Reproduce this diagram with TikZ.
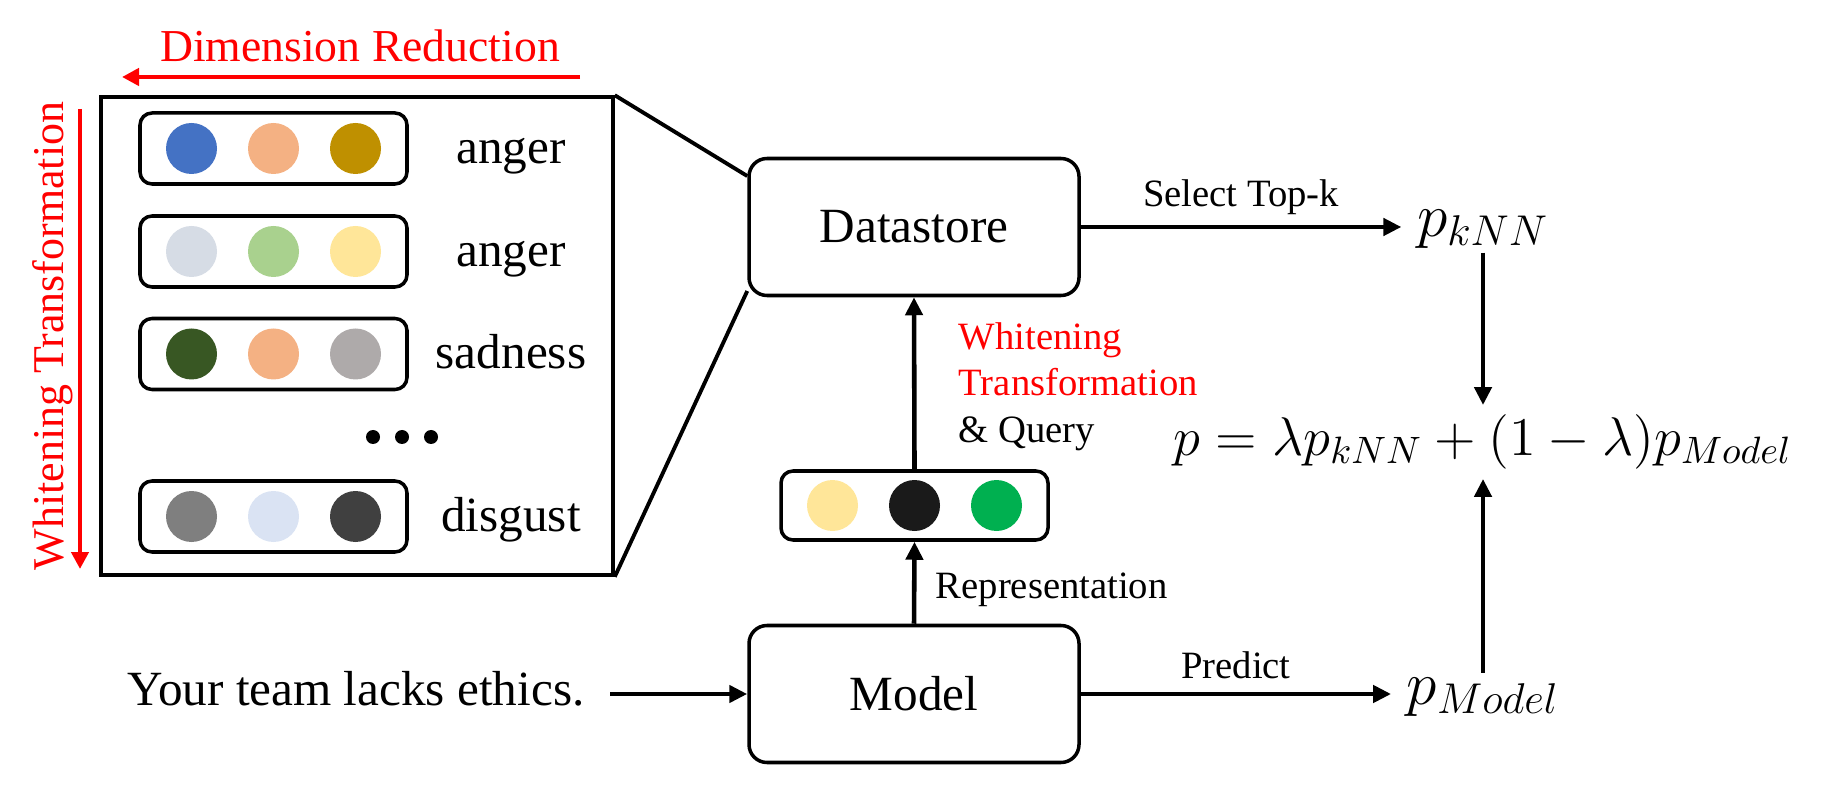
\RequirePackage{fix-cm}
\documentclass[tikz,border=0pt]{standalone}
\usepackage{fontspec}
\setmainfont{Liberation Serif}
\usetikzlibrary{positioning,arrows.meta}

\definecolor{cblue}{HTML}{4472C4}
\definecolor{cpeach}{HTML}{F4B183}
\definecolor{cgold}{HTML}{BF9000}
\definecolor{cmist}{HTML}{D6DCE5}
\definecolor{cgreen}{HTML}{A9D18E}
\definecolor{cyellow}{HTML}{FFE699}
\definecolor{cforest}{HTML}{385723}
\definecolor{cgrey}{HTML}{AEAAAA}
\definecolor{cmid}{HTML}{7F7F7F}
\definecolor{cice}{HTML}{DAE3F3}
\definecolor{cdark}{HTML}{404040}
\definecolor{cblack}{HTML}{1A1A1A}
\definecolor{cemerald}{HTML}{00B050}
\definecolor{cred}{HTML}{FF0000}

\tikzset{
  block/.style={draw, line width=1pt, rounded corners=1.8mm, minimum width=33mm,
    minimum height=13.7mm, inner sep=0pt, font=\fontsize{14}{17}\selectfont},
  vecbox/.style={draw, line width=1pt, rounded corners=1.2mm, minimum width=26.7mm,
    minimum height=7.1mm, inner sep=0pt},
  emb/.style={circle, minimum size=5.1mm, inner sep=0pt},
  arr/.style={-{Triangle[length=1.8mm,width=1.7mm]}, line width=1.3pt},
  redarr/.style={-{Triangle[length=1.7mm,width=1.7mm]}, line width=1.4pt, cred},
  lab/.style={inner sep=0pt, font=\fontsize{11}{13.3}\selectfont},
  word/.style={inner sep=0pt, font=\fontsize{14}{17}\selectfont},
  prob/.style={inner xsep=1.5mm, inner ysep=0.4mm, font=\fontsize{17.5}{20}\selectfont},
}

\begin{document}
\begin{tikzpicture}[x=0.1mm, y=-0.1mm]
\useasboundingbox (0,0) rectangle (1821,791);

% datastore contents
\node[draw, line width=1pt, minimum width=51.2mm, minimum height=47.8mm, inner sep=0pt] (memory) at (357,336) {};
\foreach \y/\ca/\cb/\cc/\emo [count=\i] in {148.5/cblue/cpeach/cgold/anger,
    251.5/cmist/cgreen/cyellow/anger, 354/cforest/cpeach/cgrey/sadness,
    516.5/cmid/cice/cdark/disgust}{
  \node[vecbox] (row\i) at (273.5,\y) {};
  \node[emb, fill=\ca] at ([xshift=-8.2mm]row\i.center) {};
  \node[emb, fill=\cb] at (row\i.center) {};
  \node[emb, fill=\cc] at ([xshift=8.2mm]row\i.center) {};
  \node[word, anchor=base] (emo\i) at (511,\y+15) {\emo};
}
\foreach \x in {373,402,431}
  \fill (\x,437) circle (0.7mm);

% red annotations
\node[anchor=base, inner sep=0pt, text=cred, font=\fontsize{13}{15}\selectfont] (dimtext) at (360,62) {Dimension Reduction};
\coordinate (dimstart) at (580,77);
\coordinate (dimend) at (122,77);
\draw[redarr] (dimstart) -- (dimend);
\node[anchor=base, rotate=90, inner sep=0pt, text=cred, font=\fontsize{12.5}{15}\selectfont] (whitetext) at (63,336) {Whitening Transformation};
\coordinate (whitestart) at (80,109);
\coordinate (whiteend) at (80,569);
\draw[redarr] (whitestart) -- (whiteend);

% main pipeline
\node[block] (ds) at (914,227) {Datastore};
\node[block] (model) at (914,694) {Model};
\node[vecbox, minimum height=6.9mm] (query) at (914.5,505.5) {};
\node[emb, fill=cyellow] at ([xshift=-8.2mm]query.center) {};
\node[emb, fill=cblack] at (query.center) {};
\node[emb, fill=cemerald] at ([xshift=8.2mm]query.center) {};
\node[word, anchor=base, outer xsep=2.6mm] (input) at (356,705) {Your team lacks ethics.};

\draw[line width=1.1pt] (memory.north east) -- (ds.163);
\draw[line width=1.1pt] (memory.south east) -- (ds.201);

\draw[arr] (input.east |- model.west) -- (model.west);
\draw[arr] (model.north) -- (query.south);
\draw[arr] (query.north) -- (ds.south);
\node[lab, anchor=base west] (reptext) at (935,598) {Representation};
\node[lab, anchor=north west, align=left] (querytext) at (958,321.6)
  {\textcolor{cred}{Whitening}\\\textcolor{cred}{Transformation}\\\& Query};

% probabilities
\node[prob, anchor=mid] (pknn) at (1483,228) {$p_{kNN}$};
\node[prob, anchor=mid] (pmodel) at (1483,696) {$p_{Model}$};
\node[inner xsep=0pt, inner ysep=0.9mm, anchor=base, font=\fontsize{15.5}{18}\selectfont] (mix) at (1483,455.6)
  {$p=\lambda p_{kNN}+(1-\lambda)p_{Model}$};

\draw[arr] (ds.east) -- (ds.east -| pknn.west)
  node[lab, midway, anchor=base, yshift=2mm] {Select Top-k};
\draw[arr] (model.east) -- (model.east -| pmodel.west)
  node[lab, midway, anchor=base, yshift=1.6mm] {Predict};
\draw[arr] (pknn.south) -- (mix.north);
\draw[arr] (pmodel.north) -- (mix.south);
\end{tikzpicture}
\end{document}
